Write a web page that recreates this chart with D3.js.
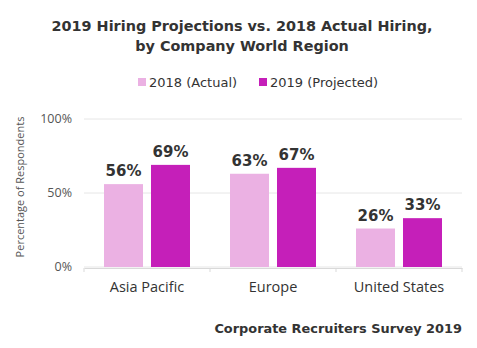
<!DOCTYPE html>
<html>
<head>
<meta charset="utf-8">
<script src="https://cdn.jsdelivr.net/npm/d3@7"></script>
<style>
  body { margin: 0; background: #fff; }
  text { fill: #333; }
</style>
</head>
<body>
<div id="chart"></div>
<script>
const w = 477;
const h = 348;

const regions = ["Asia Pacific", "Europe", "United States"];
const seriesNames = ["2018 (Actual)", "2019 (Projected)"];
const actual2018 = [56, 63, 26];
const projected2019 = [69, 67, 33];
const yTicks = [0, 50, 100];
const colors = ["#ebb1e3", "#c51fb9"];

const margin = {top: 119, left: 84, right: 15, bottom: 80};

var svg = d3.select("#chart")
  .append("svg")
  .attr("width", w)
  .attr("height", h)
  .style("font-family", "'DejaVu Sans', Verdana, sans-serif");

var x0 = d3.scaleBand()
  .domain(regions)
  .range([margin.left, w - margin.right]);

var x1 = d3.scaleBand()
  .domain(seriesNames)
  .range([20, x0.bandwidth() - 20])
  .paddingInner(0.17);

var y = d3.scaleLinear()
  .domain([0, 100])
  .range([h - margin.bottom - 1, margin.top]);

// title
svg.append("text")
  .attr("x", 242).attr("y", 31)
  .attr("text-anchor", "middle")
  .style("font-size", "14.4px").style("font-weight", "bold")
  .text("2019 Hiring Projections vs. 2018 Actual Hiring,");
svg.append("text")
  .attr("x", 242).attr("y", 51)
  .attr("text-anchor", "middle")
  .style("font-size", "14.4px").style("font-weight", "bold")
  .text("by Company World Region");

// legend
var legendX = [138, 259];
var legend = svg.selectAll(".legend")
  .data(seriesNames)
  .enter().append("g")
  .attr("class", "legend")
  .attr("transform", (d, i) => "translate(" + legendX[i] + ",78)");
legend.append("rect")
  .attr("width", 8).attr("height", 8)
  .attr("fill", (d, i) => colors[i]);
legend.append("text")
  .attr("x", 11).attr("y", 9)
  .style("font-size", "13px")
  .text(d => d);

// gridlines
svg.append("g")
  .selectAll("line")
  .data(yTicks)
  .enter().append("line")
  .attr("x1", margin.left).attr("x2", w - margin.right)
  .attr("y1", d => y(d)).attr("y2", d => y(d))
  .attr("stroke", "#e6e6e6");

// y axis labels
svg.append("g")
  .selectAll("text")
  .data(yTicks)
  .enter().append("text")
  .attr("x", 72).attr("y", d => y(d) + 4)
  .attr("text-anchor", "end")
  .style("font-family", "'Open Sans', sans-serif")
  .style("font-size", "12.5px")
  .style("fill", "#555")
  .text(d => d + "%");

svg.append("text")
  .attr("transform", "translate(24," + (y(50) - 6) + ") rotate(-90)")
  .attr("text-anchor", "middle")
  .style("font-family", "'Open Sans', sans-serif")
  .style("font-size", "11px")
  .style("fill", "#555")
  .text("Percentage of Respondents");

// bars
var groups = svg.append("g")
  .selectAll("g")
  .data(regions)
  .enter().append("g")
  .attr("transform", d => "translate(" + x0(d) + ",0)");

var barData = (d, i) => [
  {s: seriesNames[0], v: actual2018[i], c: colors[0]},
  {s: seriesNames[1], v: projected2019[i], c: colors[1]}
];

groups.selectAll("rect")
  .data(barData)
  .enter().append("rect")
  .attr("x", d => x1(d.s))
  .attr("width", x1.bandwidth())
  .attr("y", d => y(d.v))
  .attr("height", d => y(0) - y(d.v))
  .attr("fill", d => d.c);

groups.selectAll(".val")
  .data(barData)
  .enter().append("text")
  .attr("class", "val")
  .attr("x", d => x1(d.s) + x1.bandwidth() / 2)
  .attr("y", d => y(d.v) - 8)
  .attr("text-anchor", "middle")
  .style("font-size", "15px").style("font-weight", "bold")
  .text(d => d.v + "%");

// x axis
var xAxis = d3.axisBottom(x0).tickSize(0).tickPadding(14);
var gx = svg.append("g")
  .attr("transform", "translate(0," + (y(0) + 1) + ")")
  .call(xAxis);
gx.select(".domain").attr("stroke", "#d9d9d9");
gx.selectAll("text")
  .style("font-family", "'Open Sans', sans-serif")
  .style("font-size", "14.5px")
  .style("fill", "#333");
gx.selectAll(".sep")
  .data(regions.concat([null]))
  .enter().append("line")
  .attr("class", "sep")
  .attr("x1", d => d ? x0(d) : x0.range()[1])
  .attr("x2", d => d ? x0(d) : x0.range()[1])
  .attr("y1", 0).attr("y2", 4)
  .attr("stroke", "#d9d9d9");

// source
svg.append("text")
  .attr("x", 462).attr("y", 333)
  .attr("text-anchor", "end")
  .style("font-size", "12.9px").style("font-weight", "bold")
  .text("Corporate Recruiters Survey 2019");
</script>
</body>
</html>
